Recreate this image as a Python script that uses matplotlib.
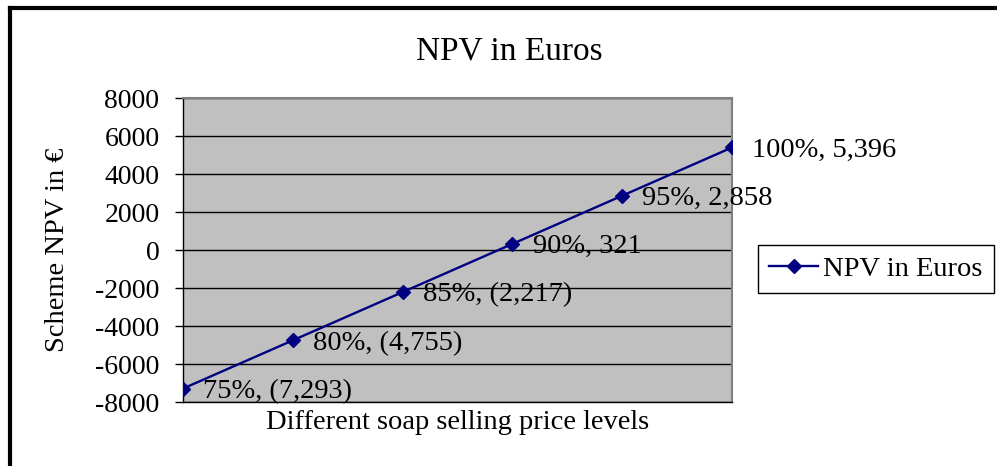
import matplotlib.pyplot as plt
from matplotlib.lines import Line2D

plt.rcParams['font.family'] = ['Liberation Serif', 'DejaVu Serif']
plt.rcParams['axes.unicode_minus'] = False

# soap selling price levels and scheme NPV (EUR)
levels = ['75%', '80%', '85%', '90%', '95%', '100%']
npv = [-7293, -4755, -2217, 321, 2858, 5396]
yticks = [-8000, -6000, -4000, -2000, 0, 2000, 4000, 6000, 8000]

def npv_label(lvl, v):
    if v < 0:
        return '{}, ({:,})'.format(lvl, -v)
    return '{}, {:,}'.format(lvl, v)

fig = plt.figure(figsize=(9.97, 4.66), dpi=100)
ax = fig.add_axes([183/997, 1-402/466, 549/997, 304/466])
ax.set_facecolor('#c0c0c0')

x = list(range(len(levels)))
ax.plot(x, npv, color='#000080', lw=1.7, marker='D', ms=7, label='NPV in Euros', zorder=3)
for xi, lvl, v in zip(x, levels, npv):
    ax.annotate(npv_label(lvl, v), (xi, v), xytext=(14.5, -2), textcoords='offset points',
                ha='left', va='center', fontsize=20.5, color='black', annotation_clip=False, zorder=4)

ax.set_xlim(0, len(levels)-1)
ax.set_ylim(-8000, 8000)
ax.set_yticks(yticks)
ax.set_yticklabels([str(t) for t in yticks])
ax.set_xticks([])
ax.tick_params(axis='y', labelsize=20, length=6, width=1, color='black', pad=11, direction='out')
ax.yaxis.grid(True, color='black', lw=1)
ax.set_axisbelow(True)

for s in ['left', 'bottom']:
    ax.spines[s].set_color('black')
    ax.spines[s].set_linewidth(1)
for s in ['top', 'right']:
    ax.spines[s].set_color('#808080')
    ax.spines[s].set_linewidth(1.5)

ax.set_ylabel('Scheme NPV in €', fontsize=20.5)
ax.yaxis.set_label_coords(-0.205, 0.5)
ax.set_xlabel('Different soap selling price levels', fontsize=20.5, va='top')
ax.xaxis.set_label_coords(0.5, -0.025)

fig.text(509/997, 1-60/466, 'NPV in Euros', fontsize=24, ha='center', va='baseline')

leg = fig.legend(loc='center left', bbox_to_anchor=(758/997, 1-269/466), fontsize=20.5,
                 frameon=True, fancybox=False, edgecolor='black', framealpha=1,
                 handlelength=1.7, handletextpad=0.2, borderpad=0.4, borderaxespad=0)
leg.get_frame().set_linewidth(1)

# chart frame (top and left edges)
fig.add_artist(Line2D([10/997, 1], [1-8/466, 1-8/466], color='black', lw=3, transform=fig.transFigure))
fig.add_artist(Line2D([10/997, 10/997], [0, 1-8/466], color='black', lw=3, transform=fig.transFigure))

fig.savefig('out.png', dpi=100)
